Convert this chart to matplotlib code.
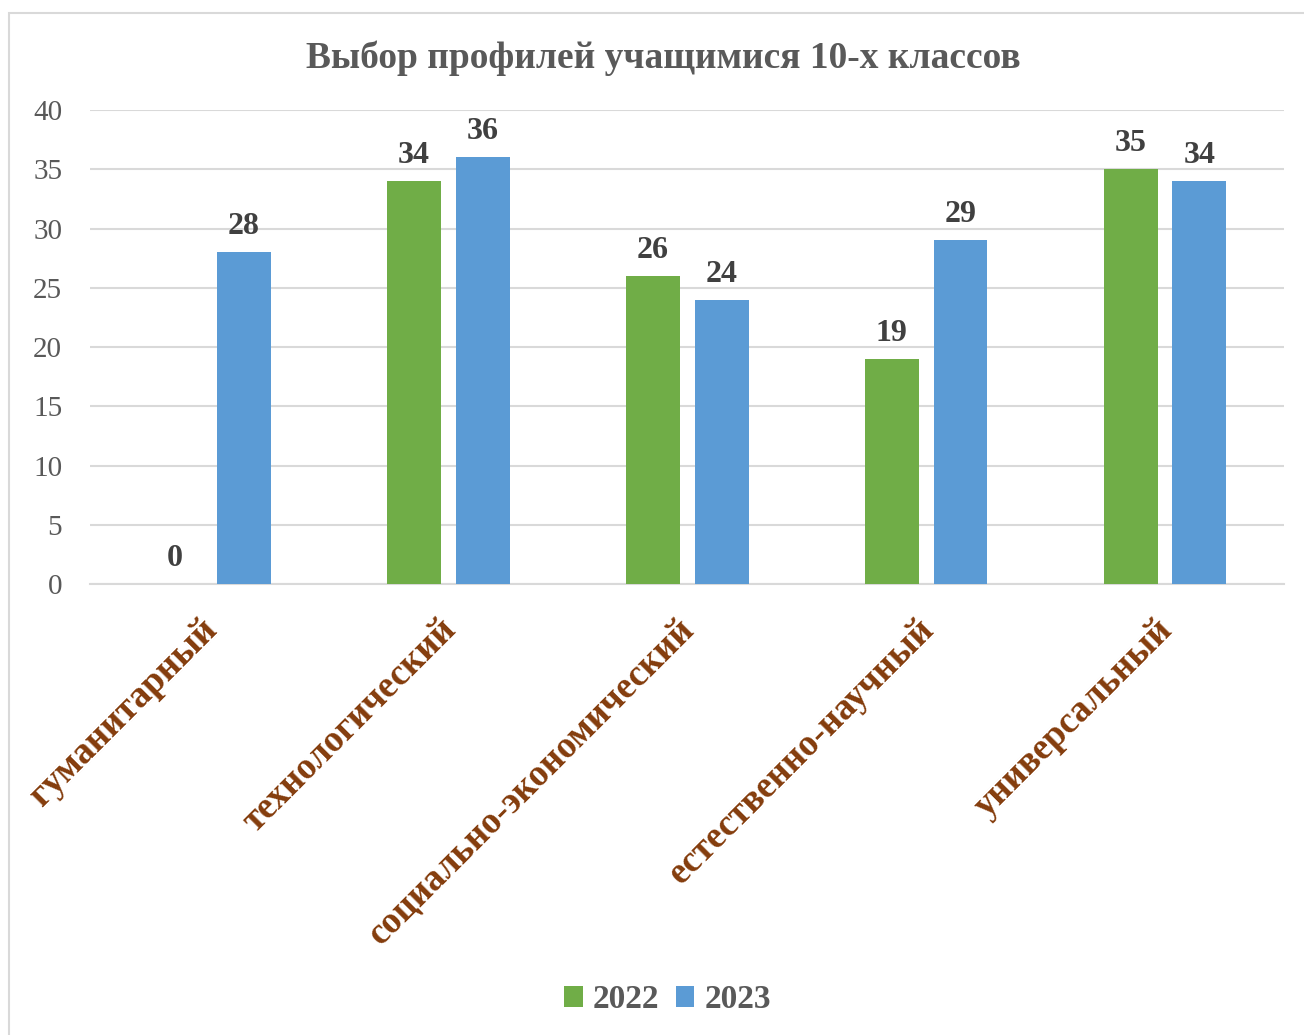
import numpy as np
import matplotlib.pyplot as plt
from matplotlib.patches import Rectangle
from matplotlib.transforms import ScaledTranslation

categories = ['гуманитарный', 'технологический', 'социально-экономический',
              'естественно-научный', 'универсальный']
values_2022 = [0, 34, 26, 19, 35]
values_2023 = [28, 36, 24, 29, 34]
years = ['2022', '2023']

serif = ['Liberation Serif', 'DejaVu Serif']
plt.rcParams['font.family'] = serif

fig = plt.figure(figsize=(13.04, 10.35), dpi=100)
ax = fig.add_axes([0.069, 0.4357, 0.916, 0.458])

x = np.arange(len(categories))
w = 0.226
off = 0.144
b1 = ax.bar(x - off, values_2022, w, color='#70AD47', label=years[0], zorder=3)
b2 = ax.bar(x + off, values_2023, w, color='#5B9BD5', label=years[1], zorder=3)

for bars in (b1, b2):
    ax.bar_label(bars, padding=8, fontsize=23, fontweight='bold', color='#404040')

ax.set_xlim(-0.5, len(categories) - 0.5)
ax.set_ylim(0, 40)
ax.set_yticks(range(0, 41, 5))
ax.yaxis.grid(True, color='#D9D9D9', lw=1.5, zorder=0)
ax.tick_params(axis='y', length=0, labelsize=21, labelcolor='#595959', pad=20)
ax.tick_params(axis='x', length=0, pad=16)
ax.set_xticks(x)
ax.set_xticklabels(categories, rotation=45, ha='right', va='top', rotation_mode='anchor',
                   fontsize=26.5, fontweight='bold', color='#843C0C')
shift = ScaledTranslation(-0.10, -0.06, fig.dpi_scale_trans)
for lbl in ax.get_xticklabels():
    lbl.set_transform(lbl.get_transform() + shift)
for s in ('left', 'right', 'top'):
    ax.spines[s].set_visible(False)
ax.spines['bottom'].set_color('#D9D9D9')
ax.spines['bottom'].set_linewidth(1.5)

fig.suptitle('Выбор профилей учащимися 10-х классов', x=0.509, y=0.961,
             fontsize=27, fontweight='bold', color='#595959')

leg = fig.legend(handles=[b1, b2], labels=years, loc='center', bbox_to_anchor=(0.512, 0.034),
                 ncol=2, frameon=False, handlelength=0.55, handleheight=0.55,
                 handletextpad=0.3, columnspacing=0.5,
                 prop={'family': serif, 'weight': 'bold', 'size': 24})
for t in leg.get_texts():
    t.set_color('#595959')

fig.patches.append(Rectangle((0.007, -0.01), 1.0, 0.997, transform=fig.transFigure,
                             fill=False, edgecolor='#D9D9D9', lw=1.5))

fig.savefig('out.png', dpi=100)
